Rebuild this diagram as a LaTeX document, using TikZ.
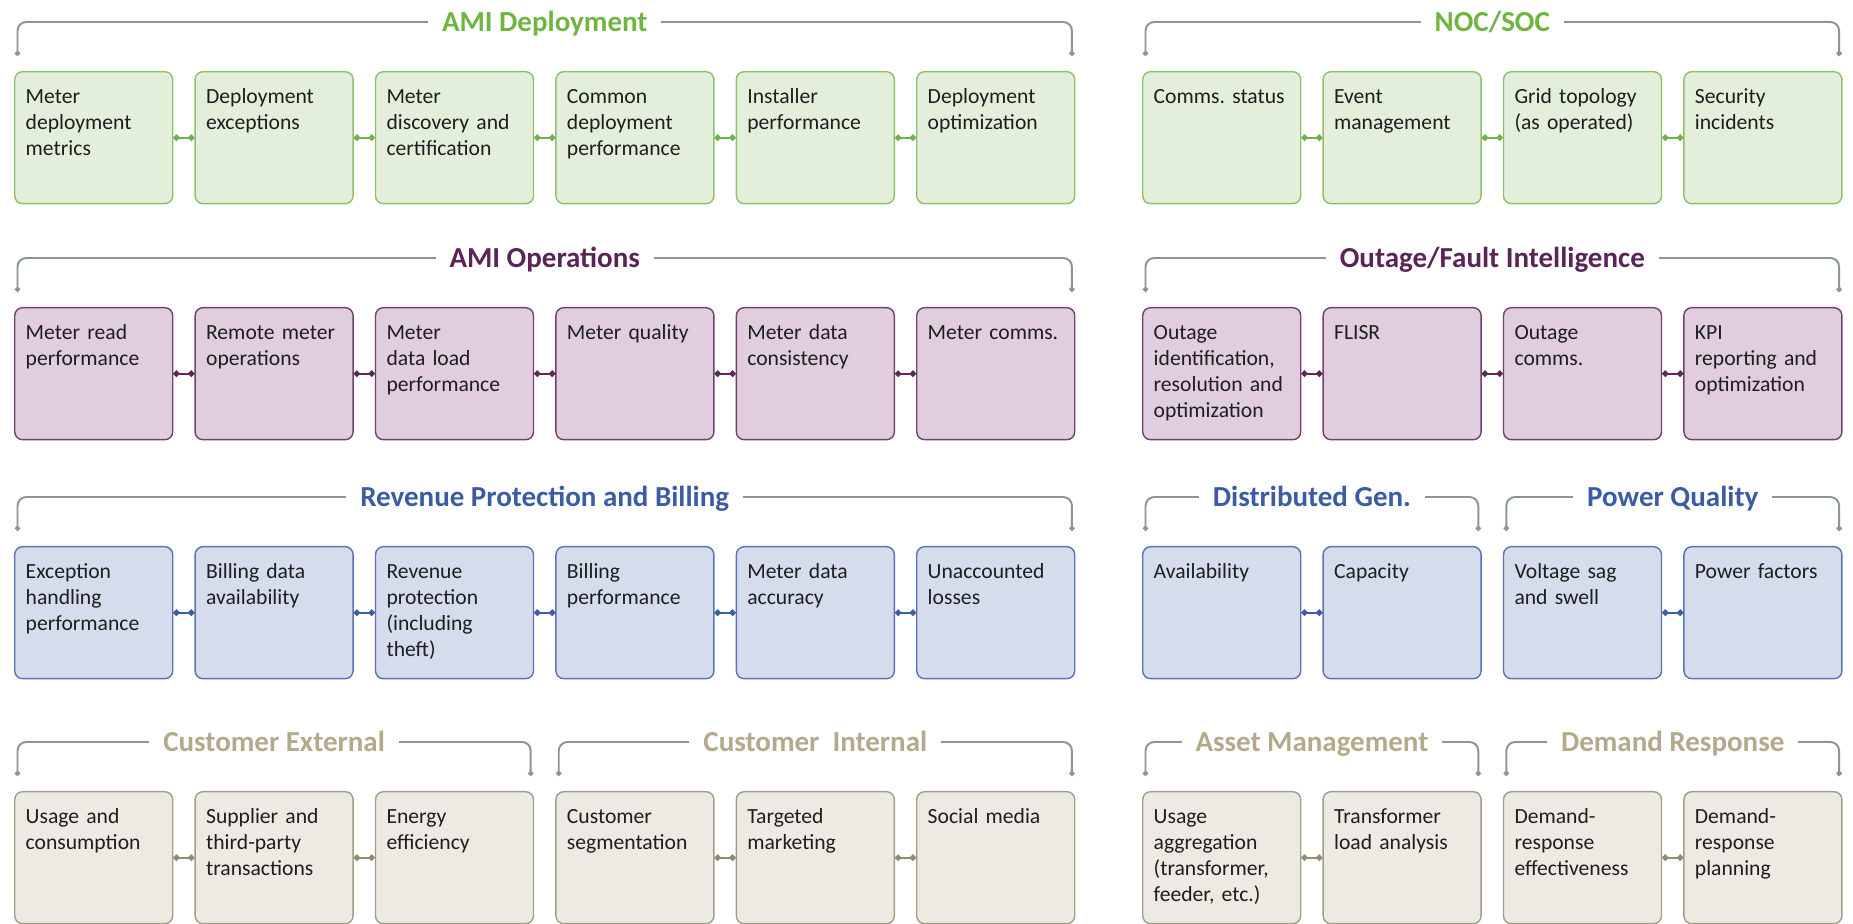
\documentclass[tikz,border=0pt]{standalone}
\usepackage{fontspec}
\setmainfont{Carlito}
\usepackage{tikz}
\usetikzlibrary{arrows.meta}
\usetikzlibrary{calc}
\usetikzlibrary{positioning}

\definecolor{greenfill}{HTML}{E3EFDA}
\definecolor{greenline}{HTML}{8DC26B}
\definecolor{greenlink}{HTML}{72B04E}
\definecolor{greentitle}{HTML}{6FB53F}
\definecolor{purplefill}{HTML}{E0CEDF}
\definecolor{purpleline}{HTML}{72426F}
\definecolor{purplelink}{HTML}{5C2A5A}
\definecolor{purpletitle}{HTML}{5B2458}
\definecolor{bluefill}{HTML}{D5DCEC}
\definecolor{blueline}{HTML}{5B72B6}
\definecolor{bluelink}{HTML}{3E5CA8}
\definecolor{bluetitle}{HTML}{3B5BA5}
\definecolor{khakifill}{HTML}{ECEAE3}
\definecolor{khakiline}{HTML}{A19E88}
\definecolor{khakilink}{HTML}{8F8C72}
\definecolor{khakititle}{HTML}{B5A98B}
\definecolor{bracegray}{HTML}{8A9595}
\definecolor{kpitext}{HTML}{1E1E1E}

\tikzset{
  kpi/.style = {rectangle, rounded corners=4.5pt, line width=0.8pt,
    draw=#1line, fill=#1fill, text=kpitext, align=left,
    font=\fontsize{12.3}{14.8}\selectfont,
    text width=2.72cm, inner xsep=0.22cm, inner ysep=0.2cm,
    text height=0.44cm, text depth=1.8cm,
    minimum width=3.16cm, minimum height=2.64cm},
  kpi_link/.style = {draw=#1link, line width=1.3pt,
    arrows={Circle[length=3.5pt]-Circle[length=3.5pt]}},
  grp_brace/.style = {draw=bracegray, line width=1.1pt, rounded corners=5pt,
    arrows={Circle[open,length=3pt]-Circle[length=3pt]}},
  grp_title/.style = {fill=white, text=#1title, anchor=base,
    inner xsep=0.28cm, inner ysep=1pt, font=\fontsize{16.5}{20}\selectfont\bfseries}
}

\begin{document}
\begin{tikzpicture}[node distance=0.42cm]
\useasboundingbox (0,0) rectangle (37.06,18.48);

% AMI Deployment
\node [kpi=green, anchor=north west] (dep1) at (0.28,17.06) {Meter\\deployment\\metrics};
\node [kpi=green, right=of dep1] (dep2) {Deployment\\exceptions};
\node [kpi=green, right=of dep2] (dep3) {Meter\\discovery and\\certification};
\node [kpi=green, right=of dep3] (dep4) {Common\\deployment\\performance};
\node [kpi=green, right=of dep4] (dep5) {Installer\\performance};
\node [kpi=green, right=of dep5] (dep6) {Deployment\\optimization};

% NOC/SOC
\node [kpi=green, anchor=north west] (noc1) at (22.84,17.06) {Comms.~status};
\node [kpi=green, right=of noc1] (noc2) {Event\\management};
\node [kpi=green, right=of noc2] (noc3) {Grid topology\\(as operated)};
\node [kpi=green, right=of noc3] (noc4) {Security\\incidents};

% AMI Operations
\node [kpi=purple, anchor=north west] (ops1) at (0.28,12.34) {Meter read\\performance};
\node [kpi=purple, right=of ops1] (ops2) {Remote meter\\operations};
\node [kpi=purple, right=of ops2] (ops3) {Meter\\data load\\performance};
\node [kpi=purple, right=of ops3] (ops4) {Meter quality};
\node [kpi=purple, right=of ops4] (ops5) {Meter data\\consistency};
\node [kpi=purple, right=of ops5] (ops6) {Meter~comms.};

% Outage/Fault Intelligence
\node [kpi=purple, anchor=north west] (out1) at (22.84,12.34) {Outage\\identification,\\resolution and\\optimization};
\node [kpi=purple, right=of out1] (out2) {FLISR};
\node [kpi=purple, right=of out2] (out3) {Outage\\comms.};
\node [kpi=purple, right=of out3] (out4) {KPI\\reporting and\\optimization};

% Revenue Protection and Billing
\node [kpi=blue, anchor=north west] (rev1) at (0.28,7.56) {Exception\\handling\\performance};
\node [kpi=blue, right=of rev1] (rev2) {Billing data\\availability};
\node [kpi=blue, right=of rev2] (rev3) {Revenue\\protection\\(including\\theft)};
\node [kpi=blue, right=of rev3] (rev4) {Billing\\performance};
\node [kpi=blue, right=of rev4] (rev5) {Meter data\\accuracy};
\node [kpi=blue, right=of rev5] (rev6) {Unaccounted\\losses};

% Distributed Gen. / Power Quality
\node [kpi=blue, anchor=north west] (dg1) at (22.84,7.56) {Availability};
\node [kpi=blue, right=of dg1] (dg2) {Capacity};
\node [kpi=blue, right=of dg2] (pq1) {Voltage sag\\and swell};
\node [kpi=blue, right=of pq1] (pq2) {Power~factors};

% Customer External / Customer Internal
\node [kpi=khaki, anchor=north west] (cex1) at (0.28,2.66) {Usage and\\consumption};
\node [kpi=khaki, right=of cex1] (cex2) {Supplier and\\third-party\\transactions};
\node [kpi=khaki, right=of cex2] (cex3) {Energy\\efficiency};
\node [kpi=khaki, right=of cex3] (cin1) {Customer\\segmentation};
\node [kpi=khaki, right=of cin1] (cin2) {Targeted\\marketing};
\node [kpi=khaki, right=of cin2] (cin3) {Social media};

% Asset Management / Demand Response
\node [kpi=khaki, anchor=north west] (am1) at (22.84,2.66) {Usage\\aggregation\\(transformer,\\feeder, etc.)};
\node [kpi=khaki, right=of am1] (am2) {Transformer\\load analysis};
\node [kpi=khaki, right=of am2] (dr1) {Demand-\\response\\effectiveness};
\node [kpi=khaki, right=of dr1] (dr2) {Demand-\\response\\planning};

% links inside each group
\draw [kpi_link=green] (dep1) -- (dep2);
\draw [kpi_link=green] (dep2) -- (dep3);
\draw [kpi_link=green] (dep3) -- (dep4);
\draw [kpi_link=green] (dep4) -- (dep5);
\draw [kpi_link=green] (dep5) -- (dep6);
\draw [kpi_link=green] (noc1) -- (noc2);
\draw [kpi_link=green] (noc2) -- (noc3);
\draw [kpi_link=green] (noc3) -- (noc4);
\draw [kpi_link=purple] (ops1) -- (ops2);
\draw [kpi_link=purple] (ops2) -- (ops3);
\draw [kpi_link=purple] (ops3) -- (ops4);
\draw [kpi_link=purple] (ops4) -- (ops5);
\draw [kpi_link=purple] (ops5) -- (ops6);
\draw [kpi_link=purple] (out1) -- (out2);
\draw [kpi_link=purple] (out2) -- (out3);
\draw [kpi_link=purple] (out3) -- (out4);
\draw [kpi_link=blue] (rev1) -- (rev2);
\draw [kpi_link=blue] (rev2) -- (rev3);
\draw [kpi_link=blue] (rev3) -- (rev4);
\draw [kpi_link=blue] (rev4) -- (rev5);
\draw [kpi_link=blue] (rev5) -- (rev6);
\draw [kpi_link=blue] (dg1) -- (dg2);
\draw [kpi_link=blue] (pq1) -- (pq2);
\draw [kpi_link=khaki] (cex1) -- (cex2);
\draw [kpi_link=khaki] (cex2) -- (cex3);
\draw [kpi_link=khaki] (cin1) -- (cin2);
\draw [kpi_link=khaki] (cin2) -- (cin3);
\draw [kpi_link=khaki] (am1) -- (am2);
\draw [kpi_link=khaki] (dr1) -- (dr2);

% group brackets
\draw [grp_brace] ([xshift=2pt,yshift=0.3cm]dep1.north west) |- ([xshift=-2pt,yshift=0.98cm]dep6.north east) -- ([xshift=-2pt,yshift=0.3cm]dep6.north east);
\draw [grp_brace] ([xshift=2pt,yshift=0.3cm]noc1.north west) |- ([xshift=-2pt,yshift=0.98cm]noc4.north east) -- ([xshift=-2pt,yshift=0.3cm]noc4.north east);
\draw [grp_brace] ([xshift=2pt,yshift=0.3cm]ops1.north west) |- ([xshift=-2pt,yshift=0.98cm]ops6.north east) -- ([xshift=-2pt,yshift=0.3cm]ops6.north east);
\draw [grp_brace] ([xshift=2pt,yshift=0.3cm]out1.north west) |- ([xshift=-2pt,yshift=0.98cm]out4.north east) -- ([xshift=-2pt,yshift=0.3cm]out4.north east);
\draw [grp_brace] ([xshift=2pt,yshift=0.3cm]rev1.north west) |- ([xshift=-2pt,yshift=0.98cm]rev6.north east) -- ([xshift=-2pt,yshift=0.3cm]rev6.north east);
\draw [grp_brace] ([xshift=2pt,yshift=0.3cm]dg1.north west) |- ([xshift=-2pt,yshift=0.98cm]dg2.north east) -- ([xshift=-2pt,yshift=0.3cm]dg2.north east);
\draw [grp_brace] ([xshift=2pt,yshift=0.3cm]pq1.north west) |- ([xshift=-2pt,yshift=0.98cm]pq2.north east) -- ([xshift=-2pt,yshift=0.3cm]pq2.north east);
\draw [grp_brace] ([xshift=2pt,yshift=0.3cm]cex1.north west) |- ([xshift=-2pt,yshift=0.98cm]cex3.north east) -- ([xshift=-2pt,yshift=0.3cm]cex3.north east);
\draw [grp_brace] ([xshift=2pt,yshift=0.3cm]cin1.north west) |- ([xshift=-2pt,yshift=0.98cm]cin3.north east) -- ([xshift=-2pt,yshift=0.3cm]cin3.north east);
\draw [grp_brace] ([xshift=2pt,yshift=0.3cm]am1.north west) |- ([xshift=-2pt,yshift=0.98cm]am2.north east) -- ([xshift=-2pt,yshift=0.3cm]am2.north east);
\draw [grp_brace] ([xshift=2pt,yshift=0.3cm]dr1.north west) |- ([xshift=-2pt,yshift=0.98cm]dr2.north east) -- ([xshift=-2pt,yshift=0.3cm]dr2.north east);

% group titles sit on the brackets
\node [grp_title=green] (depT) at ($(dep1.north west)!0.5!(dep6.north east)+(0,0.79)$) {AMI Deployment};
\node [grp_title=green] (nocT) at ($(noc1.north west)!0.5!(noc4.north east)+(0,0.79)$) {NOC/SOC};
\node [grp_title=purple] (opsT) at ($(ops1.north west)!0.5!(ops6.north east)+(0,0.79)$) {AMI Operations};
\node [grp_title=purple] (outT) at ($(out1.north west)!0.5!(out4.north east)+(0,0.79)$) {Outage/Fault Intelligence};
\node [grp_title=blue] (revT) at ($(rev1.north west)!0.5!(rev6.north east)+(0,0.79)$) {Revenue Protection and Billing};
\node [grp_title=blue] (dgT) at ($(dg1.north west)!0.5!(dg2.north east)+(0,0.79)$) {Distributed Gen.};
\node [grp_title=blue] (pqT) at ($(pq1.north west)!0.5!(pq2.north east)+(0,0.79)$) {Power Quality};
\node [grp_title=khaki] (cexT) at ($(cex1.north west)!0.5!(cex3.north east)+(0,0.79)$) {Customer External};
\node [grp_title=khaki] (cinT) at ($(cin1.north west)!0.5!(cin3.north east)+(0,0.79)$) {Customer~~Internal};
\node [grp_title=khaki] (amT) at ($(am1.north west)!0.5!(am2.north east)+(0,0.79)$) {Asset Management};
\node [grp_title=khaki] (drT) at ($(dr1.north west)!0.5!(dr2.north east)+(0,0.79)$) {Demand Response};
\end{tikzpicture}
\end{document}
